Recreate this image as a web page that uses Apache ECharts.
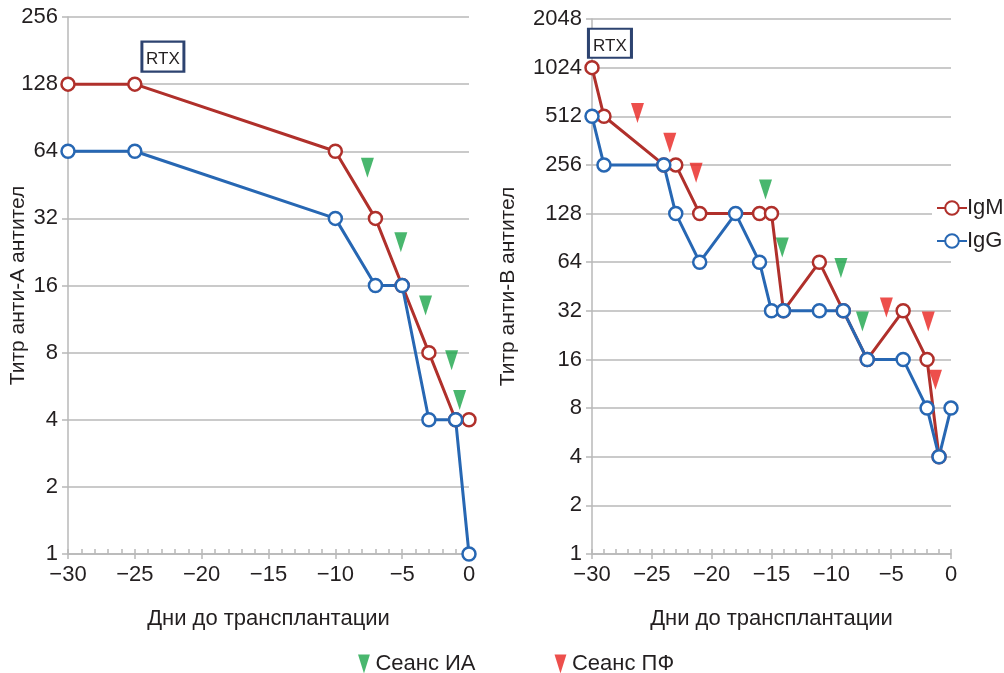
<!DOCTYPE html>
<html>
<head>
<meta charset="utf-8">
<script src="https://cdn.jsdelivr.net/npm/echarts@6/dist/echarts.min.js"></script>
<style>
html,body{margin:0;padding:0;background:#fff;}
#chart{width:1004px;height:673px;}
</style>
</head>
<body>
<div id="chart"></div>
<script>
// ---------- DATA ----------
// Left panel (anti-A)
const leftIgMDays  = [-30, -25, -10, -7, -5, -3, -1, 0];
const leftIgMTiter = [128, 128, 64, 32, 16, 8, 4, 4];
const leftIgGDays  = [-30, -25, -10, -7, -5, -3, -1, 0];
const leftIgGTiter = [64, 64, 32, 16, 16, 4, 4, 1];
const leftIADays   = [-7.6, -5.1, -3.25, -1.3, -0.7];
const leftIALevel  = [54, 25, 13, 7.4, 4.9];

// Right panel (anti-B)
const rightIgMDays  = [-30, -29, -24, -23, -21, -16, -15, -14, -11, -9, -7, -4, -2, -1];
const rightIgMTiter = [1024, 512, 256, 256, 128, 128, 128, 32, 64, 32, 16, 32, 16, 4];
const rightIgGDays  = [-30, -29, -24, -23, -21, -18, -16, -15, -14, -11, -9, -7, -4, -2, -1, 0];
const rightIgGTiter = [512, 256, 256, 128, 64, 128, 64, 32, 32, 32, 32, 16, 16, 8, 4, 8];
const rightIADays   = [-15.5, -14.1, -9.2, -7.4];
const rightIALevel  = [180, 79, 59, 27.5];
const rightPFDays   = [-26.2, -23.5, -21.3, -5.4, -1.9, -1.3];
const rightPFLevel  = [537, 351, 229, 33.5, 27.5, 12];

// Annotations
const rtxLeft  = [-22.9, 170];
const rtxRight = [-28.5, 1450];

// Axis ranges / titles
const xMin = -30, xMax = 0;
const leftYMax = 256, rightYMax = 2048;
const xTitle = 'Дни до трансплантации';
const leftYTitle = 'Титр анти-А антител';
const rightYTitle = 'Титр анти-В антител';

// ---------- STYLE ----------
const FONT = 'Liberation Sans, Arial, Helvetica, sans-serif';
const RED = '#b0302b';
const BLUE = '#2767b3';
const GREEN = '#1ba54a';
const PFRED = '#e8231f';
const GRID = '#b8b8b8';
const TXT = '#231f20';
const TRI = 'path://M0,0 L10,0 L5,16 Z';

const zip = (a, b) => a.map((v, i) => [v, b[i]]);

function xAxes(gridIndex) {
  return [
    {
      type: 'value', gridIndex, position: 'bottom', min: xMin, max: xMax, interval: 1,
      axisLine: { show: true, onZero: false, lineStyle: { color: GRID, width: 1.5 } },
      axisTick: { show: true, inside: true, length: 5, lineStyle: { color: GRID, width: 1.5 } },
      splitLine: { show: false },
      axisLabel: {
        show: true, margin: 10, fontSize: 22, color: TXT, fontFamily: FONT,
        formatter: v => (v % 5 === 0 ? (v < 0 ? '\u2212' + Math.abs(v) : String(v)) : '')
      },
      name: xTitle, nameLocation: 'middle', nameGap: 54, nameMoveOverlap: false,
      nameTextStyle: { fontSize: 22, color: TXT, fontFamily: FONT }
    },
    {
      type: 'value', gridIndex, position: 'bottom', min: xMin, max: xMax, interval: 5,
      axisLine: { show: false, onZero: false },
      axisTick: { show: true, inside: false, length: 5, lineStyle: { color: GRID, width: 1.5 } },
      splitLine: { show: false },
      axisLabel: { show: false }
    }
  ];
}

function yAxis(gridIndex, max, title, nameGap) {
  return {
    type: 'log', logBase: 2, gridIndex, position: 'left', min: 1, max, interval: 1,
    axisLine: { show: true, onZero: false, lineStyle: { color: GRID, width: 1.5 } },
    axisTick: { show: true, length: 6, lineStyle: { color: GRID, width: 1.5 } },
    splitLine: { show: true, lineStyle: { color: GRID, width: 1.5 } },
    axisLabel: { margin: 10, fontSize: 22, color: TXT, fontFamily: FONT, formatter: v => String(Math.round(v)) },
    name: title, nameLocation: 'middle', nameGap, nameMoveOverlap: false,
    nameTextStyle: { fontSize: 21, color: TXT, fontFamily: FONT }
  };
}

function lineSeries(name, color, data, xi, yi) {
  return {
    name, type: 'line', data, xAxisIndex: xi, yAxisIndex: yi,
    symbol: 'circle', symbolSize: 13, showSymbol: true,
    lineStyle: { color, width: 3 },
    itemStyle: { color: '#fff', borderColor: color, borderWidth: 2.5 },
    emphasis: { disabled: true },
    animation: false
  };
}

function triSeries(name, color, data, xi, yi) {
  return {
    name, type: 'scatter', data, xAxisIndex: xi, yAxisIndex: yi,
    symbol: TRI, symbolSize: [13, 20],
    itemStyle: { color },
    emphasis: { disabled: true },
    animation: false, z: 5
  };
}

function rtxSeries(pt, size, xi, yi) {
  return {
    type: 'scatter', data: [pt], xAxisIndex: xi, yAxisIndex: yi,
    symbol: 'rect', symbolSize: size,
    itemStyle: { color: '#fff', borderColor: '#2d4370', borderWidth: 2.5, opacity: 1 },
    label: {
      show: true, position: 'inside', formatter: 'RTX', offset: [0, 3],
      fontSize: 17, color: TXT, fontFamily: FONT
    },
    emphasis: { disabled: true }, silent: true, animation: false, z: 6
  };
}

const option = {
  backgroundColor: '#fff',
  animation: false,
  textStyle: { fontFamily: FONT },
  grid: [
    { left: 68, top: 17, width: 401, height: 537, outerBoundsMode: 'none', containLabel: false },
    { left: 592, top: 19, width: 359, height: 535, outerBoundsMode: 'none', containLabel: false }
  ],
  xAxis: [...xAxes(0), ...xAxes(1)],
  yAxis: [
    yAxis(0, leftYMax, leftYTitle, 39),
    yAxis(1, rightYMax, rightYTitle, 73)
  ],
  legend: [
    {
      data: ['IgM', 'IgG'], orient: 'vertical', left: 932, top: 195,
      itemGap: 11, itemWidth: 30, itemHeight: 17,
      backgroundColor: '#fff', padding: [2, 0, 2, 4],
      textStyle: { fontSize: 22, color: TXT, fontFamily: FONT, padding: [0, 0, 0, -5] },
      selectedMode: false
    },
    {
      data: [
        { name: 'Сеанс ИА', icon: TRI },
        { name: 'Сеанс ПФ', icon: TRI }
      ],
      orient: 'horizontal', left: 353, top: 648,
      itemGap: 79, itemWidth: 13, itemHeight: 19,
      textStyle: { fontSize: 22, color: TXT, fontFamily: FONT },
      selectedMode: false
    }
  ],
  series: [
    lineSeries('IgM', RED, zip(leftIgMDays, leftIgMTiter), 0, 0),
    lineSeries('IgG', BLUE, zip(leftIgGDays, leftIgGTiter), 0, 0),
    triSeries('Сеанс ИА', GREEN, zip(leftIADays, leftIALevel), 0, 0),
    rtxSeries(rtxLeft, [42, 30], 0, 0),
    lineSeries('IgM', RED, zip(rightIgMDays, rightIgMTiter), 2, 1),
    lineSeries('IgG', BLUE, zip(rightIgGDays, rightIgGTiter), 2, 1),
    triSeries('Сеанс ИА', GREEN, zip(rightIADays, rightIALevel), 2, 1),
    triSeries('Сеанс ПФ', PFRED, zip(rightPFDays, rightPFLevel), 2, 1),
    rtxSeries(rtxRight, [43, 29], 2, 1)
  ]
};

const chart = echarts.init(document.getElementById('chart'), null, { renderer: 'canvas' });
chart.setOption(option);
</script>
</body>
</html>
